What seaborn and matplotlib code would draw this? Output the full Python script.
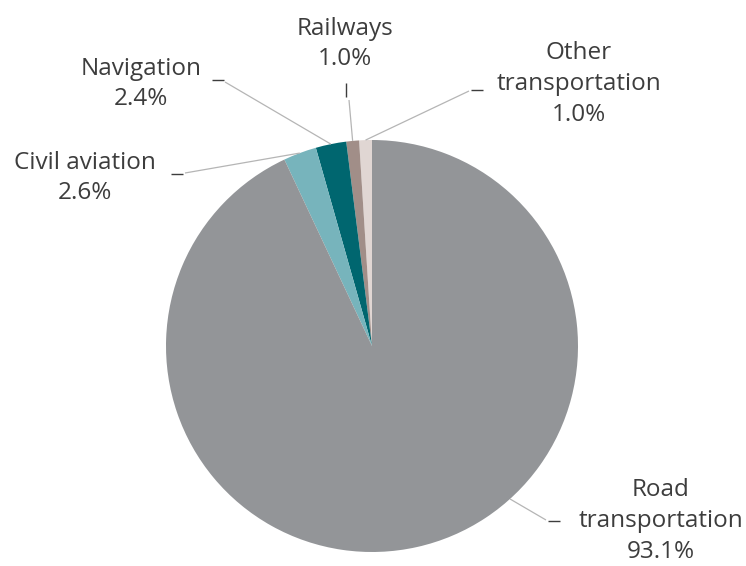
import numpy as np
import matplotlib
matplotlib.use("Agg")
import matplotlib.pyplot as plt
import seaborn as sns

# Transport energy consumption shares (%), counter-clockwise from 12 o'clock
categories = ["Other\ntransportation", "Railways", "Navigation", "Civil aviation", "Road\ntransportation"]
shares = [1.0, 1.0, 2.4, 2.6, 93.1]
colors = ["#e0d6d3", "#a18e88", "#00666f", "#77b4bc", "#939598"]

sns.set_style("white")
plt.rcParams["font.family"] = ["Open Sans", "DejaVu Sans"]

W, H = 746, 566
fig = plt.figure(figsize=(W / 100, H / 100), dpi=100)
ax = fig.add_axes([0, 0, 1, 1])

wedges, _ = ax.pie(shares, colors=colors, startangle=90, counterclock=True,
                   radius=1.0, center=(0, 0),
                   wedgeprops=dict(linewidth=0))

# pixel layout helpers: pie centre and radius in figure pixels
cx, cy, R = 372, 346, 206
ax.set_xlim(-cx / R, (W - cx) / R)
ax.set_ylim(-(H - cy) / R, cy / R)
ax.set_aspect("equal")
ax.axis("off")


def d(px, py):
    return (px - cx) / R, (cy - py) / R


text_color = "#3d3d3d"
line_color = "#b5b5b5"

# label placement: text centre, tick segment, leader end at tick, position along wedge
layout = {
    "Other\ntransportation": dict(text=(579, 84), tick=((471, 90), (483, 90)), start=(469, 91), frac=0.5),
    "Railways": dict(text=(345, 44), tick=((346, 83), (346, 97)), start=(349, 100), frac=0.5),
    "Navigation": dict(text=(141, 84), tick=((212, 80), (224, 80)), start=(225, 82), frac=0.5),
    "Civil aviation": dict(text=(85, 178), tick=((171, 174), (183, 174)), start=(185, 173), frac=0.5),
    "Road\ntransportation": dict(text=(661, 521), tick=((548, 521), (560, 521)), start=(546, 520), frac=0.588),
}

for wedge, cat, val in zip(wedges, categories, shares):
    lay = layout[cat]
    ang = np.deg2rad(wedge.theta1 + lay["frac"] * (wedge.theta2 - wedge.theta1))
    ex, ey = np.cos(ang) * 1.0, np.sin(ang) * 1.0
    sx, sy = d(*lay["start"])
    ax.plot([ex, sx], [ey, sy], color=line_color, lw=0.9, solid_capstyle="butt")
    (t0, t1) = lay["tick"]
    x0, y0 = d(*t0)
    x1, y1 = d(*t1)
    ax.plot([x0, x1], [y0, y1], color=text_color, lw=1.0, solid_capstyle="butt")
    tx, ty = d(*lay["text"])
    ax.text(tx, ty, f"{cat}\n{val:.1f}%", ha="center", va="center",
            fontsize=17.5, color=text_color, linespacing=1.38)

fig.savefig("out.png", dpi=100)
